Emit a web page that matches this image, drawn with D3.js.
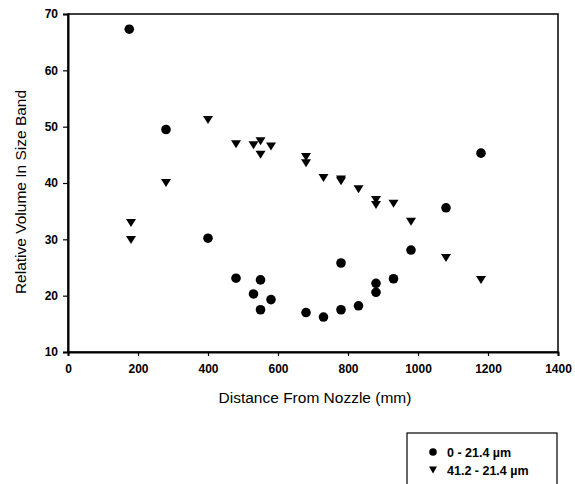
<!DOCTYPE html>
<html lang="en">
<head>
    <meta charset="UTF-8">
    <title>Relative Volume In Size Band</title>
    <script src="https://d3js.org/d3.v7.min.js"></script>
    <style>
        body {
            margin: 0;
            background-color: #ffffff;
            font-family: "Liberation Sans", Arial, sans-serif;
        }
        svg {
            display: block;
        }
        .tick text {
            font-weight: bold;
            font-size: 12px;
            fill: #000;
        }
    </style>
</head>
<body>
<svg width="575" height="484"></svg>

<script>
    // Series 1: 0 - 21.4 um (circles)
    const circleX = [175, 280, 400, 480, 530, 550, 550, 580, 680, 730, 780, 780, 830, 880, 880, 930, 980, 1080, 1180];
    const circleY = [67.3, 49.5, 30.2, 23.1, 20.3, 22.8, 17.5, 19.3, 17.0, 16.2, 17.5, 25.8, 18.2, 20.6, 22.2, 23.0, 28.1, 35.6, 45.3];

    // Series 2: 41.2 - 21.4 um (triangles)
    const triX = [180, 180, 280, 400, 480, 530, 550, 550, 580, 680, 680, 730, 780, 780, 830, 880, 880, 930, 980, 1080, 1180];
    const triY = [32.9, 29.9, 40.0, 51.2, 46.9, 46.7, 47.4, 45.0, 46.5, 44.6, 43.5, 40.9, 40.6, 40.3, 38.9, 37.0, 36.1, 36.3, 33.1, 26.7, 22.8];

    const xTicks = [0, 200, 400, 600, 800, 1000, 1200, 1400];
    const yTicks = [10, 20, 30, 40, 50, 60, 70];
    const legendLabels = ["0 - 21.4 \u00b5m", "41.2 - 21.4 \u00b5m"];

    const margin = {top: 14, left: 68};
    const width = 490;
    const height = 338;

    const svg = d3.select("svg");
    const g = svg.append("g")
        .attr("transform", `translate(${margin.left}, ${margin.top})`);

    const x = d3.scaleLinear().domain([0, 1400]).range([0, width]);
    const y = d3.scaleLinear().domain([10, 70]).range([height, 0]);

    // frame
    g.append("rect")
        .attr("width", width)
        .attr("height", height)
        .attr("fill", "none")
        .attr("stroke", "#000")
        .attr("stroke-width", 1.5);

    // axes
    const xAxis = g.append("g")
        .attr("transform", `translate(0, ${height})`)
        .call(d3.axisBottom(x).tickValues(xTicks).tickFormat(d3.format("d")).tickSize(4).tickPadding(8));
    const yAxis = g.append("g")
        .call(d3.axisLeft(y).tickValues(yTicks).tickFormat(d3.format("d")).tickSize(5).tickPadding(5));
    [xAxis, yAxis].forEach(a => {
        a.select(".domain").attr("stroke", "#000").attr("stroke-width", 2);
        a.selectAll(".tick line").attr("stroke", "#000").attr("stroke-width", 1.2);
        a.selectAll(".tick text").style("font-family", "'Liberation Sans', Arial, sans-serif");
    });

    // circles
    const circleData = circleX.map((d, i) => ({x: d, y: circleY[i]}));
    g.selectAll("circle.s1")
        .data(circleData)
        .enter()
        .append("circle")
        .attr("class", "s1")
        .attr("cx", d => x(d.x))
        .attr("cy", d => y(d.y))
        .attr("r", 4.8)
        .attr("fill", "#000");

    // down triangles
    const tri = "M-5,-4L5,-4L0,4Z";
    const triData = triX.map((d, i) => ({x: d, y: triY[i]}));
    g.selectAll("path.s2")
        .data(triData)
        .enter()
        .append("path")
        .attr("class", "s2")
        .attr("d", tri)
        .attr("transform", d => `translate(${x(d.x)}, ${y(d.y)})`)
        .attr("fill", "#000");

    // axis titles
    svg.append("text")
        .attr("x", 315)
        .attr("y", 403)
        .attr("text-anchor", "middle")
        .style("font-size", "15.5px")
        .text("Distance From Nozzle (mm)");

    svg.append("text")
        .attr("transform", "translate(26, 192) rotate(-90)")
        .attr("text-anchor", "middle")
        .style("font-size", "15.5px")
        .text("Relative Volume In Size Band");

    // legend
    const legend = svg.append("g").attr("transform", "translate(407, 433)");
    legend.append("rect")
        .attr("width", 150)
        .attr("height", 60)
        .attr("fill", "#fff")
        .attr("stroke", "#000")
        .attr("stroke-width", 1.2);
    legend.append("circle")
        .attr("cx", 26).attr("cy", 19).attr("r", 3.8).attr("fill", "#000");
    legend.append("path")
        .attr("d", "M-4,-3.5L4,-3.5L0,3.5Z")
        .attr("transform", "translate(26, 37)")
        .attr("fill", "#000");
    legend.selectAll("text")
        .data(legendLabels)
        .enter()
        .append("text")
        .attr("x", 40)
        .attr("y", (d, i) => 23.5 + i * 18)
        .style("font-size", "12.5px")
        .style("font-weight", "bold")
        .text(d => d);
</script>
</body>
</html>
